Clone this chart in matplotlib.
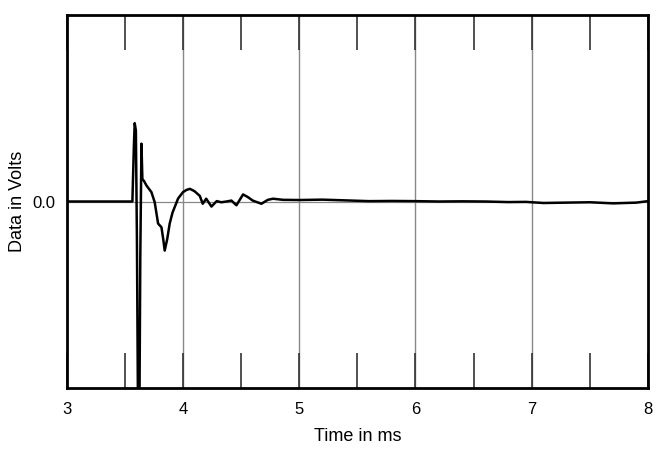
import numpy as np
import matplotlib.pyplot as plt

plt.rcParams['font.family'] = ['Liberation Sans', 'DejaVu Sans']

# impulse response (time in ms, volts in relative units)
t = [3.00, 3.50, 3.565, 3.578, 3.585, 3.595, 3.604, 3.615, 3.624, 3.633, 3.643,
     3.651, 3.665, 3.686, 3.705, 3.729, 3.757, 3.786, 3.815, 3.83, 3.843, 3.865,
     3.886, 3.91, 3.929, 3.958, 4.00, 4.03, 4.06, 4.10, 4.145, 4.17,
     4.20, 4.245, 4.29, 4.33, 4.374, 4.417, 4.46, 4.517, 4.56, 4.60, 4.675,
     4.73, 4.775, 4.86, 5.00, 5.20, 5.40, 5.60, 5.80, 6.00, 6.20, 6.40,
     6.60, 6.80, 6.95, 7.10, 7.30, 7.50, 7.70, 7.90, 8.00]
v = [0.00, 0.00, 0.00, 0.30, 0.42, 0.38, -0.20, -1.30, -1.30, -0.30, 0.31,
     0.12, 0.11, 0.086, 0.07, 0.05, -0.004, -0.118, -0.138, -0.20, -0.263, -0.20,
     -0.118, -0.06, -0.03, 0.016, 0.05, 0.062, 0.068, 0.055, 0.03, -0.012,
     0.015, -0.027, 0.002, -0.004, 0.000, 0.005, -0.02, 0.038, 0.023, 0.005, -0.012,
     0.009, 0.015, 0.009, 0.008, 0.01, 0.006, 0.002, 0.003, 0.002, 0.000, 0.001,
     0.000, -0.003, -0.002, -0.008, -0.006, -0.004, -0.010, -0.006, 0.002]

fig = plt.figure(figsize=(6.67, 4.67), dpi=100)
ax = fig.add_axes([0.1, 0.169, 0.8715, 0.799])

ax.axhline(0, color='#888888', lw=0.9, zorder=1)
for x in [4, 5, 6, 7]:
    ax.axvline(x, color='#888888', lw=1.0, zorder=1)

ax.plot(t, v, color='black', lw=1.8, zorder=3)

ax.set_xlim(3, 8)
ax.set_ylim(-1, 1)
ax.set_xticks([3, 4, 5, 6, 7, 8])
ax.set_xticks(np.arange(3.5, 8, 1.0), minor=True)
ax.set_yticks([0])
ax.set_yticklabels(['0.0'])
ax.tick_params(axis='x', which='both', direction='in', length=25, width=1.2,
               top=True, bottom=True, labelsize=12, pad=10, color='#333333')
ax.tick_params(axis='y', length=0, labelsize=12, pad=8)
for s in ax.spines.values():
    s.set_linewidth(2)

ax.set_xlabel('Time in ms', fontsize=13, labelpad=8)
ax.set_ylabel('Data in Volts', fontsize=13, labelpad=5)

fig.savefig('out.png', dpi=100)
